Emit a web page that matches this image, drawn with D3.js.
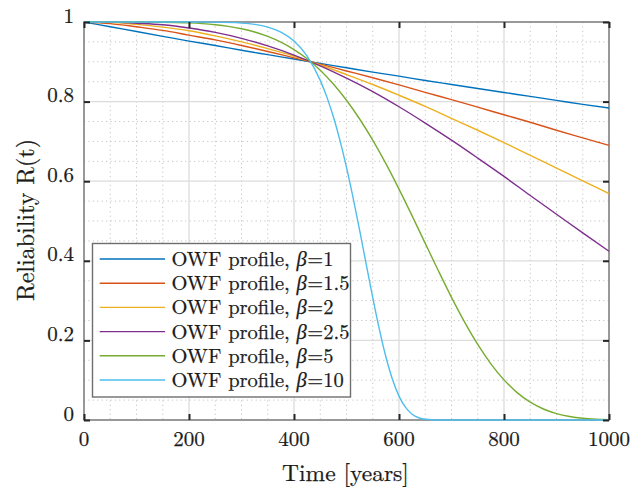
<!DOCTYPE html>
<html>
<head>
<meta charset="utf-8">
<script src="https://cdn.jsdelivr.net/npm/d3@7/dist/d3.min.js"></script>
<style>
  html, body { margin: 0; padding: 0; background: #fff; }
  svg { display: block; }
</style>
</head>
<body>
<svg id="chart" width="631" height="494"></svg>
<script>
// ---------- data ----------
const xTicks = [0, 200, 400, 600, 800, 1000];
const xTickLabels = ["0", "200", "400", "600", "800", "1000"];
const yTicks = [0, 0.2, 0.4, 0.6, 0.8, 1];
const yTickLabels = ["0", "0.2", "0.4", "0.6", "0.8", "1"];

const seriesNames = ["1", "1.5", "2", "2.5", "5", "10"];
const seriesColors = ["#0072BD", "#D95319", "#EDB120", "#7E2F8E", "#77AC30", "#4DBEEE"];

const timeCoarse = [0, 50, 100, 150, 200, 250, 300, 350, 400, 450, 500, 550, 600, 650, 700, 750, 800, 850, 900, 950, 1000];
const beta1 = [1, 0.988, 0.976, 0.964, 0.952, 0.941, 0.929, 0.918, 0.907, 0.896, 0.885, 0.874, 0.864, 0.853, 0.843, 0.833, 0.823, 0.813, 0.803, 0.793, 0.784];
const beta15 = [1, 0.996, 0.988, 0.979, 0.967, 0.955, 0.941, 0.926, 0.910, 0.894, 0.877, 0.860, 0.842, 0.823, 0.805, 0.786, 0.767, 0.748, 0.728, 0.709, 0.690];
const beta2 = [1, 0.999, 0.994, 0.987, 0.978, 0.965, 0.950, 0.933, 0.914, 0.892, 0.868, 0.843, 0.816, 0.788, 0.758, 0.728, 0.697, 0.665, 0.633, 0.601, 0.569];
const beta25 = [1, 1.000, 0.997, 0.993, 0.985, 0.974, 0.959, 0.940, 0.917, 0.890, 0.859, 0.825, 0.787, 0.746, 0.703, 0.658, 0.612, 0.564, 0.517, 0.470, 0.424];

const time5 = [0, 50, 100, 125, 150, 175, 200, 225, 250, 275, 300, 325, 350, 375, 400, 425, 450, 475, 500, 525, 550, 575, 600, 625, 650, 675, 700, 725, 750, 775, 800, 825, 850, 875, 900, 925, 950, 975, 1000];
const beta5 = [1, 1.000, 0.9999, 0.9998, 0.9995, 0.9989, 0.9978, 0.9960, 0.9932, 0.9890, 0.9831, 0.9749, 0.9639, 0.9494, 0.9308, 0.9075, 0.8788, 0.8442, 0.8035, 0.7563, 0.7030, 0.6440, 0.5801, 0.5128, 0.4437, 0.3749, 0.3082, 0.2460, 0.1898, 0.1412, 0.1008, 0.0688, 0.0447, 0.0276, 0.0160, 0.0087, 0.0044, 0.0021, 0.0009];

const time10 = [0, 100, 200, 250, 300, 325, 350, 375, 400, 425, 450, 462.5, 475, 487.5, 500, 512.5, 525, 537.5, 550, 562.5, 575, 587.5, 600, 612.5, 625, 637.5, 650, 675, 700, 800, 900, 1000];
const beta10 = [1, 1.000, 1.000, 0.9996, 0.9973, 0.9939, 0.9872, 0.9747, 0.9524, 0.9144, 0.8534, 0.8119, 0.7618, 0.7027, 0.6348, 0.5589, 0.4769, 0.3919, 0.3076, 0.2285, 0.1590, 0.1023, 0.0600, 0.0315, 0.0145, 0.0057, 0.0019, 0.0001, 0, 0, 0, 0];

const seriesTimes = [timeCoarse, timeCoarse, timeCoarse, timeCoarse, time5, time10];
const seriesValues = [beta1, beta15, beta2, beta25, beta5, beta10];

// ---------- layout ----------
const FONT = '"Latin Modern Roman"';
const svg = d3.select("#chart");
const L = 84, R = 609, T = 22, B = 420;
const x = d3.scaleLinear().domain([0, 1000]).range([L, R]);
const y = d3.scaleLinear().domain([0, 1]).range([B, T]);

// grid: minor (dotted) then major (solid)
const xMinor = d3.range(0, 1001, 50).filter(v => v % 200 !== 0);
const yMinor = d3.range(0, 21).map(i => i * 0.05).filter((v, i) => i % 4 !== 0);
const grid = svg.append("g");
grid.selectAll("line.xm").data(xMinor).join("line")
  .attr("x1", d => x(d)).attr("x2", d => x(d)).attr("y1", T).attr("y2", B)
  .attr("stroke", "#c4c4c4").attr("stroke-width", 1).attr("stroke-dasharray", "1.2,3.2");
grid.selectAll("line.ym").data(yMinor).join("line")
  .attr("y1", d => y(d)).attr("y2", d => y(d)).attr("x1", L).attr("x2", R)
  .attr("stroke", "#c4c4c4").attr("stroke-width", 1).attr("stroke-dasharray", "1.2,3.2");
grid.selectAll("line.xM").data(xTicks.slice(1, -1)).join("line")
  .attr("x1", d => x(d)).attr("x2", d => x(d)).attr("y1", T).attr("y2", B)
  .attr("stroke", "#dcdcdc").attr("stroke-width", 1.3);
grid.selectAll("line.yM").data(yTicks.slice(1, -1)).join("line")
  .attr("y1", d => y(d)).attr("y2", d => y(d)).attr("x1", L).attr("x2", R)
  .attr("stroke", "#dcdcdc").attr("stroke-width", 1.3);

// axes box
svg.append("rect").attr("x", L).attr("y", T).attr("width", R - L).attr("height", B - T)
  .attr("fill", "none").attr("stroke", "#808080").attr("stroke-width", 1.6);

// curves
const line = d3.line().curve(d3.curveMonotoneX);
seriesValues.forEach((vals, i) => {
  const pts = vals.map((v, j) => [x(seriesTimes[i][j]), y(v)]);
  svg.append("path").attr("d", line(pts)).attr("fill", "none")
    .attr("stroke", seriesColors[i]).attr("stroke-width", 1.4);
});

// ticks (inward, all four sides) via d3 axes
const tickLen = 6;
const axB = svg.append("g").attr("transform", `translate(0,${B})`)
  .call(d3.axisTop(x).tickValues(xTicks).tickSize(tickLen).tickFormat(""));
const axT = svg.append("g").attr("transform", `translate(0,${T})`)
  .call(d3.axisBottom(x).tickValues(xTicks).tickSize(tickLen).tickFormat(""));
const axL = svg.append("g").attr("transform", `translate(${L},0)`)
  .call(d3.axisRight(y).tickValues(yTicks).tickSize(tickLen).tickFormat(""));
const axRt = svg.append("g").attr("transform", `translate(${R},0)`)
  .call(d3.axisLeft(y).tickValues(yTicks).tickSize(tickLen).tickFormat(""));
[axB, axT, axL, axRt].forEach(g => {
  g.select(".domain").remove();
  g.selectAll(".tick line").attr("stroke", "#262626").attr("stroke-width", 2);
});

const txt = sel => sel.style("font-family", FONT).attr("fill", "#1a1a1a")
  .attr("stroke", "#1a1a1a").attr("stroke-width", 0.25);

// tick labels
svg.append("g").selectAll("text").data(xTicks).join("text").call(txt)
  .attr("x", d => x(d)).attr("y", 445.5).attr("text-anchor", "middle")
  .attr("font-size", 21).text((d, i) => xTickLabels[i]);
svg.append("g").selectAll("text").data(yTicks).join("text").call(txt)
  .attr("x", 74).attr("y", d => y(d) + 0.5).attr("text-anchor", "end")
  .attr("font-size", 21).text((d, i) => yTickLabels[i]);

// axis labels
svg.append("text").call(txt).attr("x", (L + R) / 2 - 1).attr("y", 481).attr("text-anchor", "middle")
  .attr("font-size", 23.5).text("Time [years]");
svg.append("text").call(txt).attr("transform", `translate(34,${(T + B) / 2 - 1}) rotate(-90)`)
  .attr("text-anchor", "middle").attr("font-size", 24).text("Reliability R(t)");

// legend
const lg = svg.append("g");
lg.append("rect").attr("x", 92.5).attr("y", 243.5).attr("width", 258).attr("height", 153.5)
  .attr("fill", "#fff").attr("stroke", "#6e6e6e").attr("stroke-width", 1.4);
const LFS = 20.5;
seriesNames.forEach((nm, i) => {
  const cy = 259 + i * 24.2;
  lg.append("line").attr("x1", 99.7).attr("x2", 165).attr("y1", cy).attr("y2", cy)
    .attr("stroke", seriesColors[i]).attr("stroke-width", 1.4);
  let xp = 171.5;
  const t1 = lg.append("text").call(txt).attr("x", xp).attr("y", cy + 7).attr("font-size", LFS)
    .text("OWF profile,");
  xp += t1.node().getComputedTextLength() + LFS * 0.333;
  const t2 = lg.append("text").call(txt).attr("x", xp).attr("y", cy + 7).attr("font-size", LFS)
    .attr("font-style", "italic").text("β");
  xp += t2.node().getComputedTextLength() + 0.5;
  lg.append("text").call(txt).attr("x", xp).attr("y", cy + 7).attr("font-size", LFS)
    .text("=" + nm);
});
</script>
</body>
</html>
